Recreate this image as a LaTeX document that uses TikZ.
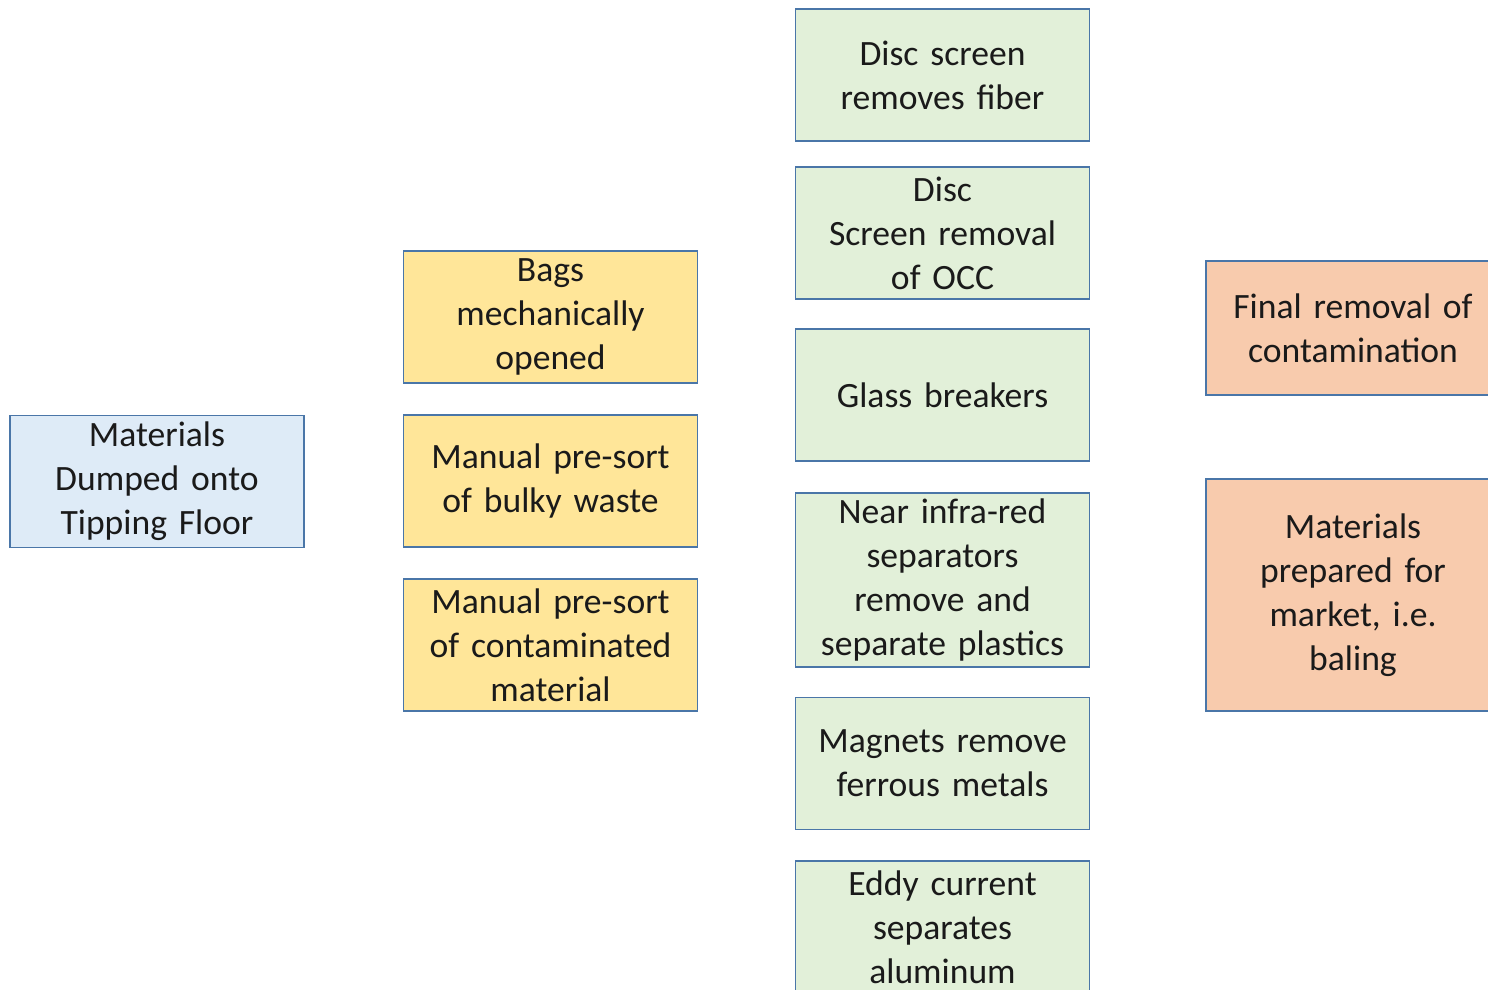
\documentclass[tikz,border=0pt]{standalone}
\usepackage{fontspec}
\setmainfont{Carlito}
\definecolor{bblue}{HTML}{DEEBF7}
\definecolor{byellow}{HTML}{FFE699}
\definecolor{bgreen}{HTML}{E2F0D9}
\definecolor{borange}{HTML}{F8CBAD}
\definecolor{edge}{HTML}{4A76A8}
\definecolor{txt}{HTML}{1A1A1A}
\begin{document}
\begin{tikzpicture}[x=0.5pt,y=-0.5pt,
  box/.style={draw=edge, line width=0.8pt, minimum width=147pt, inner sep=0pt, align=center, text width=145pt, text=txt, font=\fontsize{17.8}{22}\selectfont},
  h66/.style={minimum height=66pt},
  h67/.style={minimum height=67pt},
  h87/.style={minimum height=87pt},
  h116/.style={minimum height=116pt}]
\useasboundingbox (0,0) rectangle (1488,990);
\clip (0,0) rectangle (1488,990);
\node[box,h66,fill=bblue] (tip) at (157,481.5) {Materials\\Dumped onto\\Tipping Floor};
\node[box,h66,fill=byellow] (bags) at (550.5,317) {Bags\\mechanically\\opened};
\node[box,h66,fill=byellow] (bulky) at (550.5,481) {Manual pre-sort\\of bulky waste};
\node[box,h66,fill=byellow] (cont) at (550.5,645) {Manual pre-sort\\of contaminated\\material};
\node[box,h66,fill=bgreen] (fiber) at (942.5,75) {Disc screen\\removes fiber};
\node[box,h66,fill=bgreen] (occ) at (942.5,233) {Disc\\Screen removal\\of OCC};
\node[box,h66,fill=bgreen] (glass) at (942.5,395) {Glass breakers};
\node[box,h87,fill=bgreen] (nir) at (942.5,580) {Near infra-red\\separators\\remove and\\separate plastics};
\node[box,h66,fill=bgreen] (mag) at (942.5,763.5) {Magnets remove\\ferrous metals};
\node[box,h66,fill=bgreen] (eddy) at (942.5,927) {Eddy current\\separates\\aluminum};
\node[box,h67,fill=borange] (final) at (1353,328) {Final removal of\\contamination};
\node[box,h116,fill=borange] (market) at (1353,595) {Materials\\prepared for\\market, i.e.\\baling};
\end{tikzpicture}
\end{document}
